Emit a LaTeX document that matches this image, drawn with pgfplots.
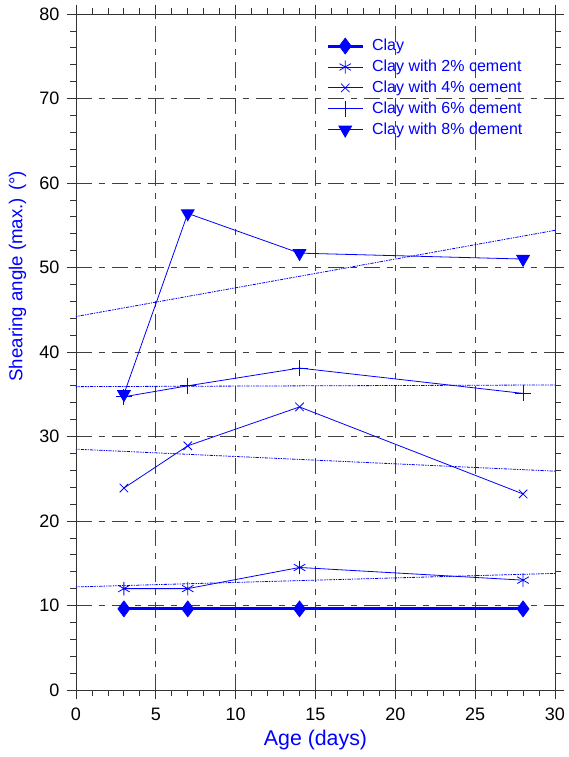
\documentclass[border=0pt]{standalone}
\usepackage{pgfplots}
\pgfplotsset{compat=1.18}
\usepackage{fontspec}
\setmainfont{Liberation Sans}
\definecolor{pblue}{RGB}{0,0,255}
\begin{document}
\begin{tikzpicture}
\begin{axis}[
  name=main,
  scale only axis,
  width=359.25pt, height=507pt,
  xmin=0, xmax=30, ymin=0, ymax=80,
  xtick={0,5,...,30}, ytick={0,10,...,80},
  minor x tick num=4, minor y tick num=4,
  tick align=outside,
  major tick length=7pt, minor tick length=4.5pt,
  tick style={black!80, line width=0.6pt},
  axis line style={black!80, line width=0.7pt},
  grid=major,
  major grid style={black!75, line width=0.6pt, dash pattern=on 12pt off 5pt on 5pt off 5pt},
  /pgf/number format/assume math mode=true,
  tick label style={font=\fontsize{13.5}{15}\selectfont, black},
  xticklabel style={yshift=-3pt},
  yticklabel style={xshift=-2pt},
  xlabel={Age (days)},
  ylabel={Shearing angle (max.) (°)},
  xlabel style={font=\fontsize{16}{18}\selectfont, text=pblue, at={(axis description cs:0.5,-0.074)}, anchor=center},
  ylabel style={font=\fontsize{14}{16}\selectfont, text=pblue, at={(axis description cs:-0.122,0.612)}, anchor=center, rotate=0},
  legend style={draw=none, fill=none, at={(rel axis cs:0.522,0.967)}, anchor=north west,
    font=\fontsize{12}{14}\selectfont, text=pblue, row sep=1.5pt, inner sep=0pt,
    /tikz/every odd column/.append style={column sep=4pt}},
  legend cell align=left,
  legend image code/.code={\draw[mark repeat=2,mark phase=2,#1] plot coordinates {(0cm,0cm) (0.46cm,0cm) (0.92cm,0cm)};},
]
% Clay
\addplot[pblue, line width=2.2pt, mark=diamond*, mark size=6pt, mark options={solid, line width=0.5pt, fill=pblue}]
  coordinates {(3,9.6) (7,9.6) (14,9.6) (28,9.6)};
\addlegendentry{Clay}
% 2%
\addplot[pblue, line width=0.6pt, mark=asterisk, mark size=5pt, mark options={solid, line width=0.6pt}]
  coordinates {(3,12.0) (7,12.0) (14,14.5) (28,13.0)};
\addlegendentry{Clay with 2\% cement}
% 4%
\addplot[pblue, line width=0.6pt, mark=x, mark size=4.5pt, mark options={solid, line width=0.6pt}]
  coordinates {(3,23.9) (7,28.9) (14,33.5) (28,23.2)};
\addlegendentry{Clay with 4\% cement}
% 6%
\addplot[pblue, line width=0.6pt, mark=+, mark size=6pt, mark options={solid, line width=0.6pt}]
  coordinates {(3,34.7) (7,36.0) (14,38.1) (28,35.1)};
\addlegendentry{Clay with 6\% cement}
% 8%
\addplot[pblue, line width=0.6pt, mark=triangle*, mark size=5.5pt, mark options={solid, rotate=180, fill=pblue}]
  coordinates {(3,35.0) (7,56.4) (14,51.7) (28,51.0)};
\addlegendentry{Clay with 8\% dement}
% trend lines
\addplot[pblue, line width=0.6pt, dash pattern=on 1pt off 0.8pt on 1pt off 0.8pt on 2.5pt off 0.8pt, forget plot] coordinates {(0,12.2) (30,13.8)};
\addplot[pblue, line width=0.6pt, dash pattern=on 1pt off 0.8pt on 1pt off 0.8pt on 2.5pt off 0.8pt, forget plot] coordinates {(0,28.5) (30,25.9)};
\addplot[pblue, line width=0.6pt, dash pattern=on 1pt off 0.8pt on 1pt off 0.8pt on 2.5pt off 0.8pt, forget plot] coordinates {(0,35.9) (30,36.1)};
\addplot[pblue, line width=0.6pt, dash pattern=on 1pt off 0.8pt on 1pt off 0.8pt on 2.5pt off 0.8pt, forget plot] coordinates {(0,44.2) (30,54.4)};
\end{axis}
\pgfresetboundingbox
\path[use as bounding box] (main.south west) ++(-57pt,-50.25pt) rectangle ++(426pt,567.75pt);
\end{tikzpicture}
\end{document}
